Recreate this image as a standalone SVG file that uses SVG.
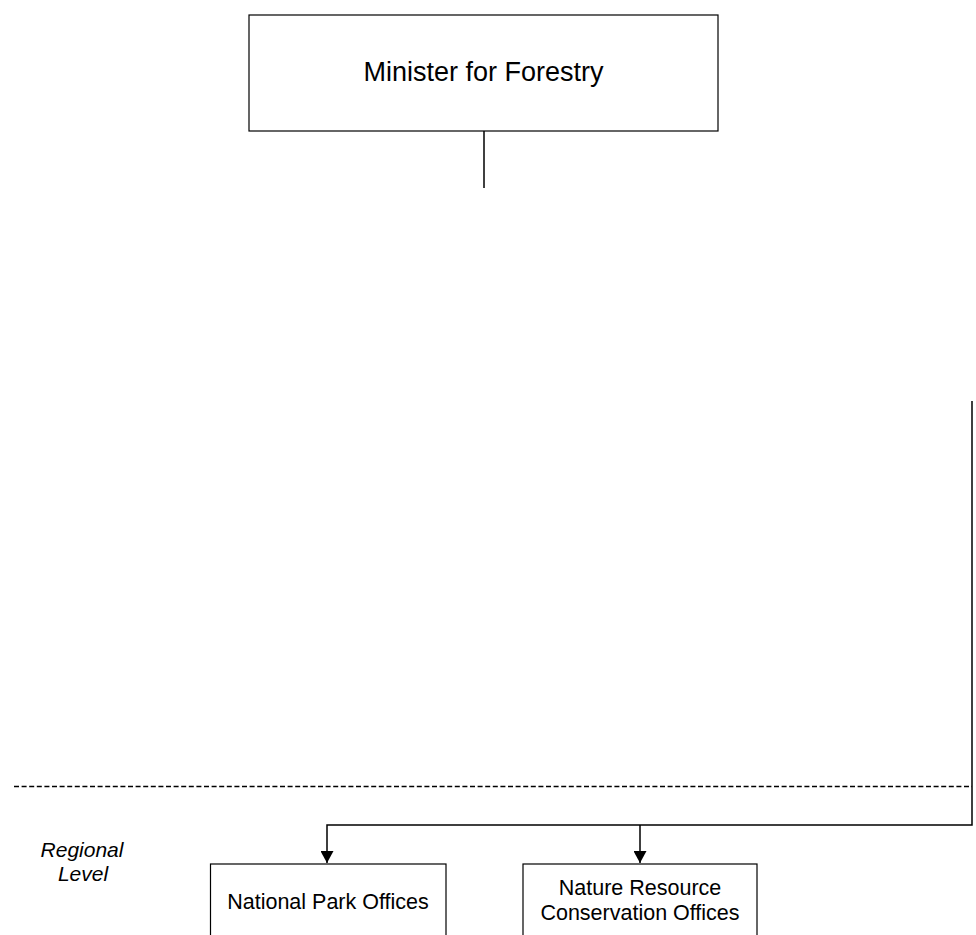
<svg xmlns="http://www.w3.org/2000/svg" width="976" height="935" viewBox="0 0 976 935">
  <style>
    .box { fill: #ffffff; stroke: #000000; stroke-width: 1.2; }
    .lbl { font-family: "Liberation Sans", Arial, sans-serif; fill: #000000; text-anchor: middle; }
    .big { font-size: 27px; }
    .small { font-size: 21.5px; }
    .level { font-size: 21px; font-style: italic; }
    .wire { fill: none; stroke: #000000; stroke-width: 1.5; }
    .divider { fill: none; stroke: #000000; stroke-width: 1.3; stroke-dasharray: 5 2.6; }
  </style>
  <defs>
    <marker id="arrow" markerWidth="12" markerHeight="13" refX="12" refY="6.5" orient="auto" markerUnits="userSpaceOnUse">
      <path d="M0,0 L12,6.5 L0,13 Z" fill="#000000"/>
    </marker>
  </defs>
  <rect width="976" height="935" fill="#ffffff"/>

  <!-- level divider -->
  <line class="divider" x1="14" y1="786.5" x2="972" y2="786.5"/>

  <!-- connectors -->
  <g id="connectors">
    <line class="wire" x1="484" y1="131" x2="484" y2="188"/>
    <polyline class="wire" points="972,401 972,825 327,825 327,863" marker-end="url(#arrow)"/>
    <line class="wire" x1="640" y1="825" x2="640" y2="863" marker-end="url(#arrow)"/>
  </g>

  <g id="minister">
    <rect class="box" x="249" y="15" width="469" height="116"/>
    <text class="lbl big" x="483.5" y="81">Minister for Forestry</text>
  </g>

  <g id="regional-label">
    <text class="lbl level" x="82" y="857">Regional</text>
    <text class="lbl level" x="83" y="881">Level</text>
  </g>

  <g id="national-park">
    <rect class="box" x="210.5" y="864" width="235.5" height="90"/>
    <text class="lbl small" x="328" y="909">National Park Offices</text>
  </g>

  <g id="conservation">
    <rect class="box" x="523" y="864" width="234" height="90"/>
    <text class="lbl small" x="640" y="895">Nature Resource</text>
    <text class="lbl small" x="640" y="920">Conservation Offices</text>
  </g>
</svg>
